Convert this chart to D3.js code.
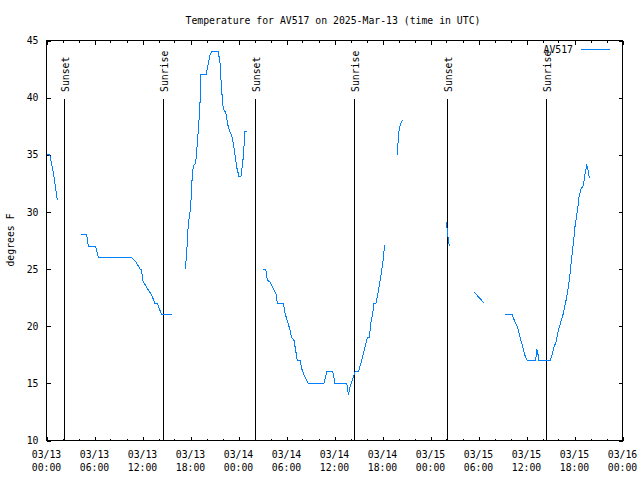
<!DOCTYPE html>
<html>
<head>
<meta charset="utf-8">
<script src="https://cdn.jsdelivr.net/npm/d3@7"></script>
<style>
    body { margin: 0; background: #fff; }
    svg text { font-family: "DejaVu Sans Mono", monospace; font-size: 9.8px; fill: #000; }
</style>
</head>
<body>
<div id="viewportContainer"></div>
<script>
/* --- data (hours after 2025-03-13 00:00 UTC, null = gap) --- */
const hours = [
    0, 0.4, 0.7, 0.95, 1.15, 1.35, null,
    4.31, 5.03, 5.23, 6.15, 6.48, 10.65, 11.19, 11.69, 11.9, 12.0, 12.53, 13.15, 13.56, 13.85, 14.4, 15.65, null,
    17.35, 17.53, 17.73, 17.94, 18.06, 18.23, 18.35, 18.65, 18.85, 19.06, 19.19, 19.31, 19.94, 20.23, 20.44, 20.65,
    21.48, 21.69, 21.9, 22.1, 22.4, 22.73, 22.94, 23.23, 23.48, 23.78, 24.06, 24.31, 24.6, 24.81, 25.1, null,
    27.1, 27.4, 27.6, 27.94, 28.15, 28.44, 28.69, 28.85, 29.6, 29.81, 30.03, 30.35, 30.65, 30.94, 31.19, 31.35,
    31.69, 31.9, 32.19, 32.53, 32.73, 34.69, 35.03, 35.78, 36.06, 37.53, 37.73, 37.94, 38.15, 38.56, 38.98, 39.28,
    39.6, 39.94, 40.1, 40.35, 40.53, 40.78, 40.94, 41.19, 41.48, 41.78, 42.03, 42.19, 42.23, null,
    43.85, 43.98, 44.1, 44.28, 44.48, null,
    49.94, 50.03, 50.15, 50.28, 50.35, null,
    53.44, 54.73, null,
    57.31, 58.23, 58.56, 58.85, 59.19, 59.53, 59.81, 60.1, 61.15, 61.28, 61.48, 61.56, 62.94, 63.15, 63.44, 63.69,
    63.98, 64.28, 64.6, 64.94, 65.23, 65.44, 65.65, 65.94, 66.06, 66.28, 66.48, 66.56, 66.81, 67.1, 67.31, 67.53,
    67.65, 67.85
];
const tempF = [
    35, 35, 34, 33, 32, 31, null,
    28, 28, 27, 27, 26, 26, 25.6, 25, 25, 24, 23.4, 22.7, 22, 22, 21, 21, null,
    25, 26.5, 29, 30, 31, 33.3, 34, 34.3, 36, 38, 39.6, 42, 42, 43, 43.7, 44,
    44, 43, 40.6, 39, 38.7, 37.4, 37, 36.5, 35.4, 33.9, 33.1, 33.1, 34.8, 37, 37, null,
    25, 25, 24, 23.9, 23.56, 23.2, 22.8, 22, 22, 21.2, 20.6, 19.9, 19, 18.75, 17.7, 17,
    17, 16.3, 15.7, 15.25, 15, 15, 16, 16, 15, 15, 14, 14.67, 15.1, 16, 16, 16.7,
    17.6, 18.5, 19, 19, 20.2, 21.2, 22, 22, 23.1, 24.3, 25.5, 26.6, 27.1, null,
    35, 36.5, 37.3, 37.7, 38.06, null,
    29.1, 28.8, 28, 27.35, 27, null,
    23, 22, null,
    21, 21, 20.35, 19.97, 19.04, 18.2, 17.44, 17, 17, 18, 17.4, 17, 17, 17.4, 18.2, 18.6,
    19.6, 20.35, 21.1, 22.25, 23.4, 24.6, 26, 27.8, 28.7, 29.7, 30.7, 31.3, 32, 32.3, 33.3, 34.06,
    33.8, 33
];

const sunHours = [2.23, 14.6, 26.06, 38.48, 50.06, 62.48];
const sunLabels = ["Sunset", "Sunrise", "Sunset", "Sunrise", "Sunset", "Sunrise"];

const yTicks = [10, 15, 20, 25, 30, 35, 40, 45];
const seriesName = "AV517";
const titleText = "Temperature for AV517 on 2025-Mar-13 (time in UTC)";
const yLabelText = "degrees F";

/* --- viewport --- */
const viewport = {width: 640, height: 480};
const plot = {left: 46.5, right: 622.5, top: 40.5, bottom: 440.5};
const lineColor = "#0080ff";

const t0 = Date.UTC(2025, 2, 13);
const toDate = h => new Date(t0 + h * 3600 * 1000);

const svg = d3.select("#viewportContainer")
    .append("svg")
    .attr("width", viewport.width)
    .attr("height", viewport.height);

/*--- scales ---*/
const xScale = d3.scaleUtc()
    .domain([toDate(0), toDate(72)])
    .range([plot.left, plot.right]);

const yScale = d3.scaleLinear()
    .domain([10, 45])
    .range([plot.bottom, plot.top]);

const majorTicks = xScale.ticks(d3.utcHour.every(6));
const minorTicks = xScale.ticks(d3.utcHour.every(2)).filter(d => d.getUTCHours() % 6 !== 0);

/*--- ticks (gnuplot style, pointing inward, mirrored) ---*/
const tickG = svg.append("g")
    .attr("stroke", "#000")
    .attr("shape-rendering", "crispEdges");

majorTicks.forEach(d => {
    const x = Math.round(xScale(d)) + 0.5;
    tickG.append("line").attr("x1", x).attr("x2", x).attr("y1", plot.bottom).attr("y2", plot.bottom - 4);
    tickG.append("line").attr("x1", x).attr("x2", x).attr("y1", plot.top).attr("y2", plot.top + 4);
});
minorTicks.forEach(d => {
    const x = Math.round(xScale(d)) + 0.5;
    tickG.append("line").attr("x1", x).attr("x2", x).attr("y1", plot.bottom).attr("y2", plot.bottom - 2);
    tickG.append("line").attr("x1", x).attr("x2", x).attr("y1", plot.top).attr("y2", plot.top + 2);
});
yTicks.forEach(v => {
    const y = Math.round(yScale(v)) + 0.5;
    tickG.append("line").attr("x1", plot.left).attr("x2", plot.left + 4).attr("y1", y).attr("y2", y);
    tickG.append("line").attr("x1", plot.right).attr("x2", plot.right - 4).attr("y1", y).attr("y2", y);
});

/*--- tick labels ---*/
const fmtDay = d3.utcFormat("%m/%d");
const fmtTime = d3.utcFormat("%H:%M");

const xLabels = svg.append("g").selectAll("text")
    .data(majorTicks)
    .enter()
    .append("text")
    .attr("text-anchor", "middle")
    .attr("x", d => xScale(d));
xLabels.append("tspan").attr("x", d => xScale(d)).attr("y", 458).text(d => fmtDay(d));
xLabels.append("tspan").attr("x", d => xScale(d)).attr("y", 471).text(d => fmtTime(d));

svg.append("g").selectAll("text")
    .data(yTicks)
    .enter()
    .append("text")
    .attr("text-anchor", "end")
    .attr("x", 38.5)
    .attr("y", d => yScale(d) + 3.6)
    .text(d => d);

/*--- sunrise / sunset markers ---*/
const sunG = svg.append("g");
sunG.selectAll("line")
    .data(sunHours)
    .enter()
    .append("line")
    .attr("x1", d => Math.round(xScale(toDate(d))) + 0.5)
    .attr("x2", d => Math.round(xScale(toDate(d))) + 0.5)
    .attr("y1", 99)
    .attr("y2", plot.bottom)
    .attr("stroke", "#000")
    .attr("shape-rendering", "crispEdges");

sunG.selectAll("text")
    .data(sunHours)
    .enter()
    .append("text")
    .attr("text-anchor", "start")
    .attr("transform", d => "translate(" + (xScale(toDate(d)) + 5) + ",92) rotate(-90)")
    .text((d, i) => sunLabels[i]);

/*--- data line ---*/
const points = hours.map((h, i) => ({h: h, t: tempF[i]}));
const line = d3.line()
    .defined(d => d.h !== null && d.t !== null)
    .x(d => xScale(toDate(d.h)))
    .y(d => yScale(d.t));

svg.append("path")
    .datum(points)
    .attr("d", line)
    .attr("fill", "none")
    .attr("stroke", lineColor)
    .attr("stroke-width", 1)
    .attr("shape-rendering", "crispEdges");

/*--- border ---*/
svg.append("rect")
    .attr("x", plot.left)
    .attr("y", plot.top)
    .attr("width", plot.right - plot.left)
    .attr("height", plot.bottom - plot.top)
    .attr("fill", "none")
    .attr("stroke", "#000")
    .attr("shape-rendering", "crispEdges");

/*--- legend ---*/
svg.append("text")
    .attr("text-anchor", "end")
    .attr("x", 573)
    .attr("y", 53)
    .text(seriesName);
svg.append("line")
    .attr("x1", 581).attr("x2", 610)
    .attr("y1", 49.5).attr("y2", 49.5)
    .attr("stroke", lineColor)
    .attr("shape-rendering", "crispEdges");

/*--- title & axis label ---*/
svg.append("text")
    .attr("text-anchor", "middle")
    .attr("x", 333)
    .attr("y", 23.5)
    .text(titleText);

svg.append("text")
    .attr("text-anchor", "middle")
    .attr("transform", "translate(14,240) rotate(-90)")
    .text(yLabelText);
</script>
</body>
</html>
